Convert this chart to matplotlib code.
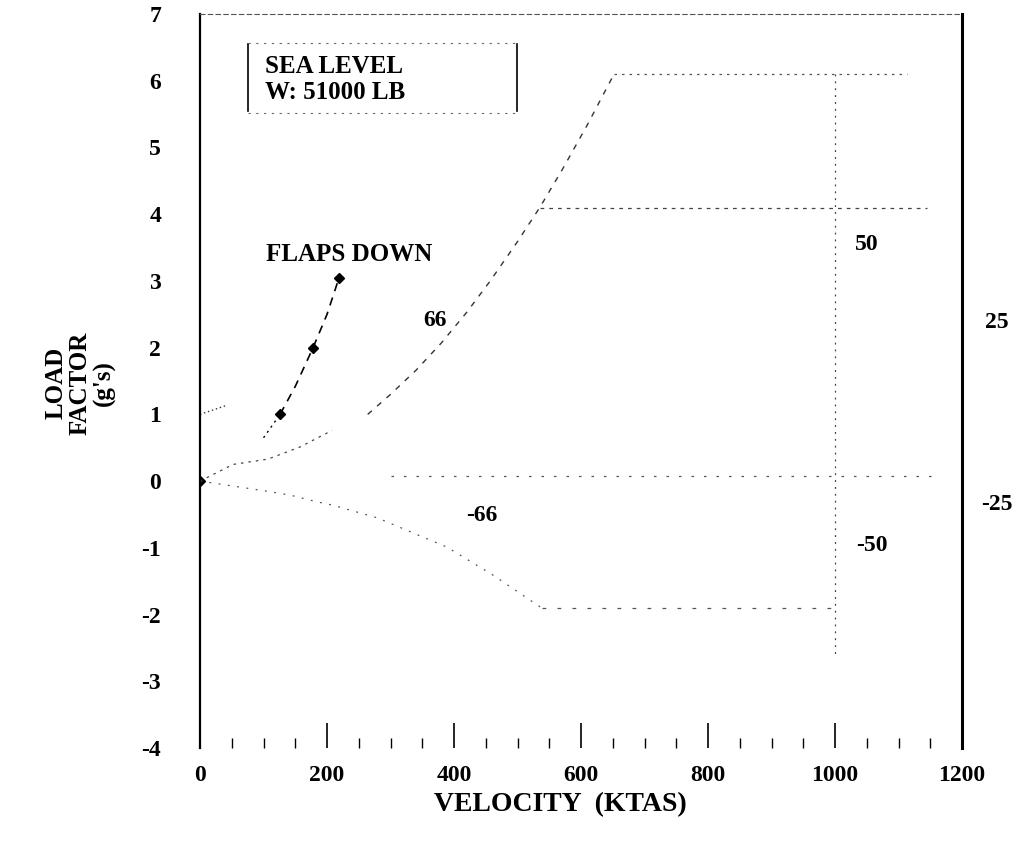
import matplotlib
matplotlib.use("Agg")
import matplotlib.pyplot as plt
from matplotlib.ticker import MultipleLocator

plt.rcParams['font.family'] = ['Liberation Serif', 'DejaVu Serif']
plt.rcParams['font.weight'] = 'bold'
plt.rcParams['axes.unicode_minus'] = False

# flaps down curve (dashed) and its markers
flaps_v = [100, 126, 150, 178, 200, 219]
flaps_n = [0.65, 1.0, 1.42, 2.0, 2.5, 3.05]
mark_v = [0, 126, 178, 219]
mark_n = [0, 1.0, 2.0, 3.05]

# clean stall boundaries
pos_stall_v = [264, 300, 340, 380, 420, 457, 500, 535, 570, 610, 652]
pos_stall_n = [1.0, 1.3, 1.66, 2.07, 2.53, 3.0, 3.59, 4.1, 4.66, 5.34, 6.1]
neg_stall_v = [0, 98, 142, 184, 209, 279, 389, 460, 538]
neg_stall_n = [0, -0.14, -0.21, -0.31, -0.36, -0.55, -0.99, -1.4, -1.9]

# gust lines from the origin and from 1 g
gust_v = [0, 52, 107, 157, 208]
gust_n = [0, 0.25, 0.33, 0.51, 0.76]
gust1_v = [0, 40]
gust1_n = [1.0, 1.13]

# limit lines
top_v, top_n = [652, 1113], [6.1, 6.1]
mid_v, mid_n = [535, 1145], [4.1, 4.1]
vd_v, vd_n = [1000, 1000], [6.1, -2.6]
zero_v, zero_n = [300, 1160], [0.07, 0.07]
neg_v, neg_n = [538, 1000], [-1.9, -1.9]

# gust labels
gust_labels = ["66", "-66", "50", "-50", "25", "-25"]
gust_lab_v = [370, 444, 1050, 1058, 1255, 1255]
gust_lab_n = [2.41, -0.51, 3.54, -0.97, 2.38, -0.35]

fig = plt.figure(figsize=(10.28, 8.44), dpi=100)
ax = fig.add_axes([0.1946, 0.1137, 0.7412, 0.8697])
ax.set_xlim(0, 1200)
ax.set_ylim(-4, 7)

dot = (0, (2, 4))
ax.plot(flaps_v[:2], flaps_n[:2], color='black', lw=1.0, ls=(0, (1.5, 3)))
ax.plot(flaps_v[1:], flaps_n[1:], color='black', lw=1.2, ls=(0, (5, 4)))
ax.plot(mark_v, mark_n, ls='none', marker='D', ms=5, color='black')

ax.plot(pos_stall_v, pos_stall_n, color='#333333', lw=1.0, ls=(0, (4, 5)))
ax.plot(neg_stall_v, neg_stall_n, color='#555555', lw=0.9, ls=(0, (1.5, 6)))
ax.plot(gust_v, gust_n, color='#444444', lw=0.9, ls=(0, (2, 4)))
ax.plot(gust1_v, gust1_n, color='#333333', lw=1.0, ls=(0, (1, 2)))

ax.plot(top_v, top_n, color='#555555', lw=0.9, ls=dot)
ax.plot(mid_v, mid_n, color='#444444', lw=0.9, ls=(0, (3, 4)))
ax.plot(vd_v, vd_n, color='#444444', lw=0.9, ls=(0, (1.5, 4)))
ax.plot(zero_v, zero_n, color='#555555', lw=0.9, ls=(0, (2, 8)))
ax.plot(neg_v, neg_n, color='#555555', lw=0.9, ls=(0, (3, 9)))

for lab, v, n in zip(gust_labels, gust_lab_v, gust_lab_n):
    ax.text(v, n, lab, fontsize=17, fontweight='bold', ha='center', va='center', clip_on=False)

ax.text(235, 3.39, "FLAPS DOWN", fontsize=18, fontweight='bold', ha='center', va='center')

# weight / altitude box
ax.text(103, 6.02, "SEA LEVEL\nW: 51000 LB", fontsize=18, fontweight='bold',
        ha='left', va='center', linespacing=1.15)
ax.plot([76, 76], [5.55, 6.55], color='black', lw=1.2)
ax.plot([499, 499], [5.55, 6.55], color='black', lw=1.2)
ax.plot([76, 499], [6.57, 6.57], color='#666666', lw=0.8, ls=(0, (2, 5)))
ax.plot([76, 499], [5.52, 5.52], color='#666666', lw=0.8, ls=(0, (2, 5)))

# axes frame
ax.spines['left'].set_linewidth(1.6)
ax.spines['right'].set_linewidth(2.2)
ax.spines['top'].set_color('#555555')
ax.spines['top'].set_linewidth(0.8)
ax.spines['top'].set_linestyle((0, (4, 3)))
ax.spines['bottom'].set_visible(False)

ax.xaxis.set_major_locator(MultipleLocator(200))
ax.xaxis.set_minor_locator(MultipleLocator(50))
ax.yaxis.set_major_locator(MultipleLocator(1))
ax.tick_params(axis='x', which='major', direction='in', length=18, width=1.2, pad=12, labelsize=17)
ax.tick_params(axis='x', which='minor', direction='in', length=7, width=1.0)
ax.tick_params(axis='y', which='major', length=0, pad=28, labelsize=17)
for t in ax.get_xticklabels() + ax.get_yticklabels():
    t.set_fontweight('bold')

fig.text(80 / 1028, 1 - 383 / 844, "LOAD\nFACTOR\n(g's)", rotation=90, fontsize=18,
         fontweight='bold', ha='center', va='center', multialignment='center', linespacing=1.05)
fig.text(560 / 1028, 1 - 805 / 844, "VELOCITY  (KTAS)", fontsize=20, fontweight='bold',
         ha='center', va='center')

fig.savefig("out.png", dpi=100)
